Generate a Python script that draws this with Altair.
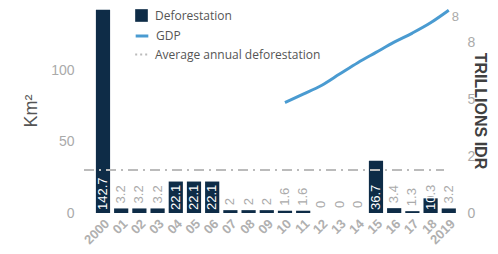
import altair as alt
import pandas as pd

# ---- data ----
years = ["2000", "01", "02", "03", "04", "05", "06", "07", "08", "09",
         "10", "11", "12", "13", "14", "15", "16", "17", "18", "2019"]
deforestation = [142.7, 3.2, 3.2, 3.2, 22.1, 22.1, 22.1, 2, 2, 2,
                 1.6, 1.6, 0, 0, 0, 36.7, 3.4, 1.3, 10.3, 3.2]
gdp_years = ["10", "11", "12", "13", "14", "15", "16", "17", "18", "2019"]
gdp = [4.85, 5.22, 5.6, 6.1, 6.6, 7.05, 7.5, 7.9, 8.35, 8.9]
avg_deforestation = 30.2
left_ticks = [0, 50, 100]
right_ticks = [0, 2.5, 5, 7.5]
right_tick_labels = ["0", "2", "5", "8"]
gdp_end_label = "8"

NAVY = "#0e2c47"
BLUE = "#4a9bd1"
GREY = "#aaaaaa"
FONT = "Liberation Sans"

df = pd.DataFrame({
    "year": years,
    "value": deforestation,
    "label": [f"{v:g}" for v in deforestation],
    "series": "Deforestation",
})
df["base"] = 0.0
gdf = pd.DataFrame({"year": gdp_years, "gdp": gdp, "series": "GDP"})
gend = pd.DataFrame({"year": [gdp_years[-1]], "gdp": [gdp[-1]], "label": [gdp_end_label]})
adf = pd.DataFrame({"avg": [avg_deforestation], "series": ["Average annual deforestation"]})

x_enc = alt.X(
    "year:N",
    sort=None,
    title=None,
    scale=alt.Scale(domain=years, paddingInner=0.22, paddingOuter=0.495, align=0.66),
    axis=alt.Axis(labelAngle=-45, labelFontWeight="bold", labelFontSize=13,
                  labelColor="#b0b0b0", labelFont=FONT, labelPadding=4),
)

left_scale = alt.Scale(domain=[0, 144], nice=False, zero=True)
left_axis = alt.Axis(values=left_ticks, title="Km²", titleFontSize=18, titleColor="#555555",
                     titleFontWeight="normal", titleFont=FONT, titlePadding=10,
                     labelFontSize=14, labelColor=GREY, labelFont=FONT, labelPadding=10)

legend_common = dict(orient="none", title=None, labelFont="Open Sans", labelFontSize=12,
                     labelColor="#555555", labelOffset=6, labelLimit=400)

bars = alt.Chart(df).mark_bar().encode(
    x=x_enc,
    y=alt.Y("value:Q", scale=left_scale, axis=left_axis, title="Km²"),
    color=alt.Color("series:N", scale=alt.Scale(range=[NAVY]),
                    legend=alt.Legend(symbolType="square", symbolSize=160,
                                      legendX=50, legendY=0, **legend_common)),
)

avg_rule = alt.Chart(adf).mark_rule(strokeWidth=2, strokeDash=[10, 5, 2, 5]).encode(
    y=alt.Y("avg:Q", title="Km²"),
    x=alt.value(0),
    x2=alt.value(360),
    color=alt.Color("series:N", scale=alt.Scale(range=["#bbbbbb"]),
                    legend=alt.Legend(symbolType="stroke", symbolSize=160, symbolStrokeWidth=2,
                                      symbolDash=[2, 3], legendX=50, legendY=39,
                                      **legend_common)),
)

text_common = dict(angle=270, align="left", baseline="middle", fontSize=13, font=FONT)

# tall bars: white label inside, from the base
text_in = alt.Chart(df).transform_filter("datum.value >= 20").mark_text(
    dx=3, color="white", **text_common
).encode(x=x_enc, y=alt.Y("base:Q", title="Km²"), text="label:N")

# short-but-labelled-inside bar: label runs past the bar top (white inside, grey outside)
split_fill = alt.Gradient(
    gradient="linear", x1=0, y1=0, x2=1, y2=0,
    stops=[alt.GradientStop(offset=0, color="white"),
           alt.GradientStop(offset=0.5, color="white"),
           alt.GradientStop(offset=0.5, color=GREY),
           alt.GradientStop(offset=1, color=GREY)],
)
text_split = alt.Chart(df).transform_filter("datum.value >= 10 && datum.value < 20").mark_text(
    dx=3, color=split_fill, **text_common
).encode(x=x_enc, y=alt.Y("base:Q", title="Km²"), text="label:N")

# small bars: grey label above the bar
text_out = alt.Chart(df).transform_filter("datum.value < 10").mark_text(
    dx=5, color=GREY, **text_common
).encode(x=x_enc, y=alt.Y("value:Q", title="Km²"), text="label:N")

left = alt.layer(bars, avg_rule, text_in, text_split, text_out).resolve_scale(color="independent")

label_expr = " : ".join(
    f"datum.value == {v} ? '{t}'" for v, t in zip(right_ticks, right_tick_labels)
) + " : ''"

right_scale = alt.Scale(domain=[0, 9], nice=False, zero=True)
right_axis = alt.Axis(orient="right", values=right_ticks, labelExpr=label_expr,
                      title="TRILLIONS IDR", titleFontSize=16, titleColor="#404040",
                      titleFontWeight="bold", titleFont=FONT, titlePadding=-3,
                      labelFontSize=14, labelColor=GREY, labelFont=FONT, labelPadding=5)

line = alt.Chart(gdf).mark_line(strokeWidth=3, interpolate="monotone").encode(
    x=x_enc,
    y=alt.Y("gdp:Q", scale=right_scale, axis=right_axis, title="TRILLIONS IDR"),
    color=alt.Color("series:N", scale=alt.Scale(range=[BLUE]),
                    legend=alt.Legend(symbolType="stroke", symbolSize=160, symbolStrokeWidth=3,
                                      legendX=50, legendY=20, **legend_common)),
)

end_label = alt.Chart(gend).mark_text(
    align="left", baseline="top", dx=3, dy=1, fontSize=13, font=FONT, color=GREY
).encode(x=x_enc, y=alt.Y("gdp:Q", title="TRILLIONS IDR"), text="label:N")

right = alt.layer(line, end_label)

chart = alt.layer(left, right).resolve_scale(y="independent", color="independent").properties(
    width=378, height=205,
    autosize=alt.AutoSizeParams(type="none"),
    padding={"left": 76, "top": 0, "right": 28, "bottom": 33},
).configure_view(stroke=None).configure_axis(grid=False, domain=False, ticks=False)

chart.save("out.html", embed_options={"renderer": "svg", "actions": False})
